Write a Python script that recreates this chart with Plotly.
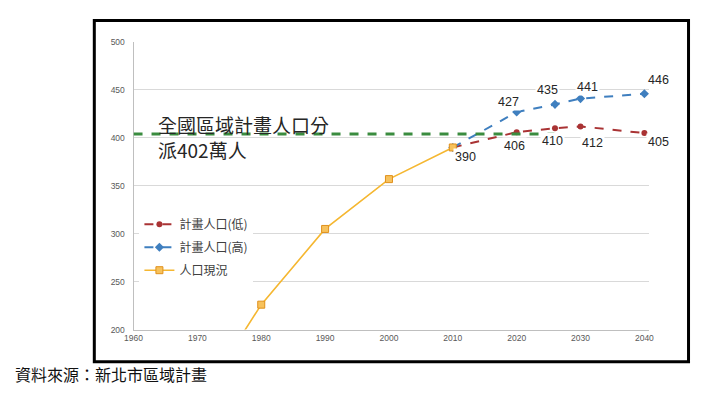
import plotly.graph_objects as go

W, H = 720, 396

# ---- data ----
years_plan = [2010, 2020, 2026, 2030, 2040]
plan_low = [390, 406, 410, 412, 405]
plan_high = [390, 427, 435, 441, 446]
years_now = [1970, 1980, 1990, 2000, 2010]
pop_now = [122, 226, 305, 357, 390]
quota_value = 404
quota_x = [1960, 2025.9]
x_ticks = [1960, 1970, 1980, 1990, 2000, 2010, 2020, 2030, 2040]
y_ticks = [200, 250, 300, 350, 400, 450, 500]

# label offsets (px) for data labels
low_shift = [(13, -10), (-2, -14), (-2, -13), (12, -17), (14, -9)]
high_shift = [None, (-8, 10), (-7, 14), (7, 12), (14, 14)]

RED = "#a93334"
BLUE = "#3f7fbf"
YEL = "#f5b731"


def px(x):
    return x / W


def py(y):
    return 1 - y / H


fig = go.Figure()

fig.add_trace(go.Scatter(
    x=years_plan, y=plan_low, mode="lines+markers", name="計畫人口(低)",
    line=dict(color=RED, width=2, dash="dash"),
    marker=dict(symbol="circle", size=6, color=RED),
    legendgroup="a", hoverinfo="skip"))
fig.add_trace(go.Scatter(
    x=years_plan, y=plan_high, mode="lines+markers", name="計畫人口(高)",
    line=dict(color=BLUE, width=2, dash="dash"),
    marker=dict(symbol="diamond", size=7, color=BLUE),
    legendgroup="b", hoverinfo="skip"))
fig.add_trace(go.Scatter(
    x=years_now, y=pop_now, mode="lines+markers", name="人口現況",
    line=dict(color=YEL, width=1.6),
    marker=dict(symbol="square", size=7, color="#f7c25c",
                line=dict(color="#e0901c", width=1)),
    legendgroup="c", hoverinfo="skip"))

# green quota line
fig.add_shape(type="line", xref="x", yref="y",
              x0=quota_x[0], x1=quota_x[1], y0=quota_value, y1=quota_value,
              line=dict(color="#3a8c3f", width=3, dash="dash"))

annotations = []
lab_font = dict(family="Liberation Sans, Arial, sans-serif", size=12.5, color="#262626")
for i, (x, v) in enumerate(zip(years_plan, plan_low)):
    dx, dy = low_shift[i]
    annotations.append(dict(x=x, y=v, xref="x", yref="y", text=str(v), showarrow=False,
                            xshift=dx, yshift=dy, font=lab_font, bgcolor="white", borderpad=1))
for i, (x, v) in enumerate(zip(years_plan, plan_high)):
    if high_shift[i] is None:
        continue
    dx, dy = high_shift[i]
    annotations.append(dict(x=x, y=v, xref="x", yref="y", text=str(v), showarrow=False,
                            xshift=dx, yshift=dy, font=lab_font, bgcolor="white", borderpad=1))

annotations.append(dict(
    x=px(150), y=py(135), xref="paper", yref="paper", xanchor="left", yanchor="middle",
    align="left", showarrow=False, text="全國區域計畫人口分<br>派402萬人",
    font=dict(family="Noto Sans CJK TC, sans-serif", size=19, color="#262626")))

annotations.append(dict(
    x=px(4), y=py(379), xref="paper", yref="paper", xanchor="left", yanchor="middle",
    showarrow=False, text="資料來源：新北市區域計畫",
    font=dict(family="Noto Sans CJK TC, sans-serif", size=16, color="#111111")))

# outer frame
fig.add_shape(type="rect", xref="paper", yref="paper",
              x0=px(87), x1=px(693), y0=py(366), y1=py(16),
              line=dict(color="black", width=3), layer="above")

tick_font = dict(family="Liberation Sans Narrow, Arial Narrow, Liberation Sans, sans-serif",
                 size=8.5, color="#595959")

fig.update_layout(
    width=W, height=H, margin=dict(l=0, r=0, t=0, b=0),
    paper_bgcolor="white", plot_bgcolor="white",
    showlegend=True,
    legend=dict(x=px(133), y=py(210), xanchor="left", yanchor="top",
                bgcolor="white", font=dict(family="Noto Sans CJK TC, sans-serif", size=12, color="#404040"),
                itemwidth=30, tracegroupgap=4, traceorder="grouped"),
    annotations=annotations,
    xaxis=dict(domain=[px(127), px(653)], range=[1960, 2040.77], tickmode="array",
               tickvals=x_ticks, ticktext=[str(t) for t in x_ticks], showgrid=False,
               showline=True, linecolor="#bfbfbf", linewidth=1, ticks="", tickfont=tick_font,
               zeroline=False, fixedrange=True),
    yaxis=dict(domain=[py(333), py(38)], range=[200, 500], tickmode="array",
               tickvals=y_ticks, ticktext=[str(t) for t in y_ticks], showgrid=True,
               gridcolor="#d9d9d9", gridwidth=1, showline=True, linecolor="#bfbfbf",
               linewidth=1, ticks="", tickfont=tick_font, zeroline=False, fixedrange=True,
               ticklabelstandoff=6),
)

fig.write_html("out.html", post_script="document.body.style.margin='0px';",
               config={"displayModeBar": False})
